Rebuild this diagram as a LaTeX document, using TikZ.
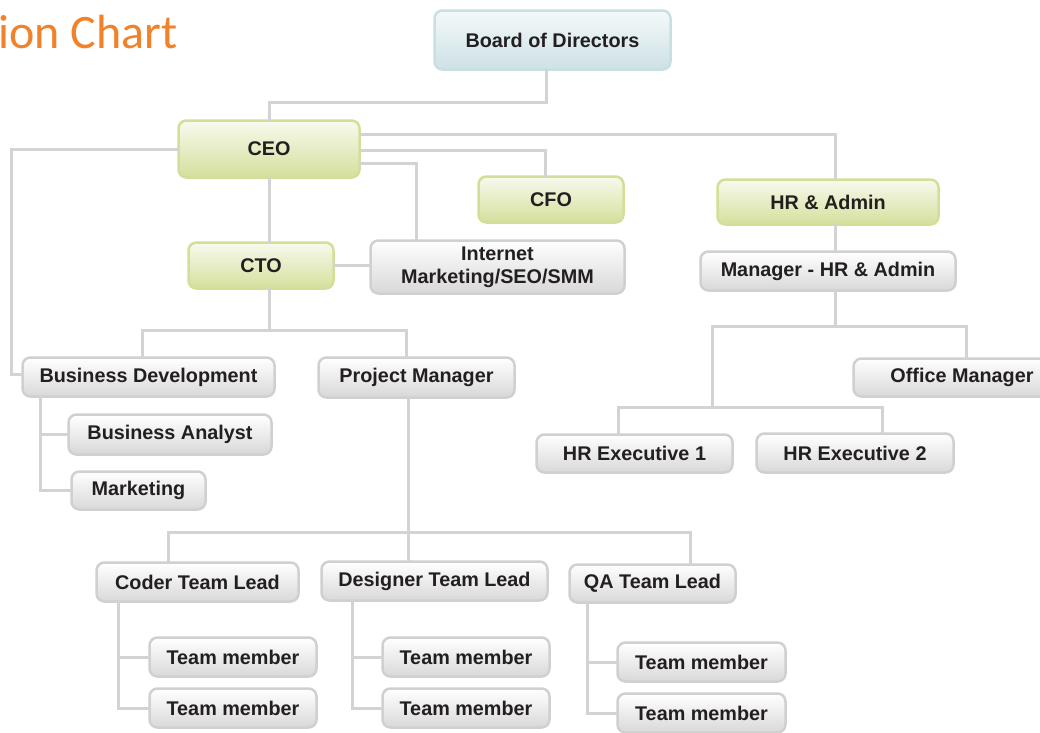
\documentclass[tikz,border=0pt]{standalone}
\usepackage{fontspec}
\setmainfont{Liberation Sans}
\newfontfamily\titlefont{Carlito}
\definecolor{conncol}{HTML}{D3D3D3}
\definecolor{txtcol}{HTML}{231F20}
\definecolor{grayedge}{HTML}{D0D0D0}
\definecolor{graybot}{HTML}{D8D8D8}
\definecolor{greenedge}{HTML}{D3DF98}
\definecolor{greentop}{HTML}{F8FAEE}
\definecolor{greenbot}{HTML}{D5DF9C}
\definecolor{blueedge}{HTML}{C8DFE3}
\definecolor{bluetop}{HTML}{F4F9FA}
\definecolor{bluebot}{HTML}{CDE1E5}
\definecolor{titlecol}{HTML}{F2822A}
\tikzset{
  box/.style={rounded corners=8pt, line width=2.5pt, inner sep=0pt, align=center,
    text=txtcol, font=\bfseries\fontsize{19.8}{23}\selectfont},
  graybox/.style={box, draw=grayedge, top color=white, bottom color=graybot},
  greenbox/.style={box, draw=greenedge, top color=greentop, bottom color=greenbot},
  bluebox/.style={box, draw=blueedge, top color=bluetop, bottom color=bluebot},
  conn/.style={draw=conncol, line width=3pt},
  sz/.style n args={2}{minimum width=#1pt, minimum height=#2pt},
}
\begin{document}
\begin{tikzpicture}[x=1pt,y=-1pt]
\useasboundingbox (0,0) rectangle (1040,732);
\fill[white] (0,0) rectangle (1040,732);

\node[anchor=base west, inner sep=0pt, text=titlecol, font=\titlefont\fontsize{48}{50}\selectfont] (title) at (-2,48) {ion Chart};

\node[bluebox, sz={236}{59}] (board) at (552.5,40) {Board of Directors};
\node[greenbox, sz={181}{57}] (ceo) at (269,149) {CEO};
\node[greenbox, sz={145}{46}] (cfo) at (551,199.5) {CFO};
\node[greenbox, sz={221}{45}] (hr) at (828,202) {HR \& Admin};
\node[greenbox, sz={145}{46}] (cto) at (261,265.5) {CTO};
\node[graybox, sz={254}{53}] (inet) at (497.5,267) {Internet\\Marketing/SEO/SMM};
\node[graybox, sz={255}{39}] (mgr) at (828,271) {Manager - HR \& Admin};
\node[graybox, sz={252}{39}] (bd) at (148.5,377) {Business Development};
\node[graybox, sz={196}{40}] (pm) at (416.5,377.5) {Project Manager};
\node[graybox, sz={217}{38}] (om) at (962,377.5) {Office Manager};
\node[graybox, sz={203}{40}] (ba) at (170,434.5) {Business Analyst};
\node[graybox, sz={134}{38}] (mkt) at (138.5,490.5) {Marketing};
\node[graybox, sz={196}{38}] (hre1) at (634.5,453.5) {HR Executive 1};
\node[graybox, sz={197}{39}] (hre2) at (855,453) {HR Executive 2};
\node[graybox, sz={202}{39}] (ctl) at (197.5,582) {Coder Team Lead};
\node[graybox, sz={226}{39}] (dtl) at (434.5,581) {Designer Team Lead};
\node[graybox, sz={166}{38}] (qtl) at (652.5,583.5) {QA Team Lead};
\node[graybox, sz={167}{39}] (tmc1) at (233,657) {Team member};
\node[graybox, sz={167}{39}] (tmc2) at (233,708) {Team member};
\node[graybox, sz={167}{39}] (tmd1) at (466,657) {Team member};
\node[graybox, sz={167}{39}] (tmd2) at (466,708) {Team member};
\node[graybox, sz={168}{39}] (tmq1) at (701.5,662) {Team member};
\node[graybox, sz={168}{39}] (tmq2) at (701.5,713) {Team member};

% Board -> CEO
\draw[conn] ([xshift=-6.5pt,yshift=1.5pt]board.south) -- ++(0,33.5) -| ([yshift=-1.5pt]ceo.north);
% CEO -> HR, CFO, Internet
\draw[conn] ([yshift=15pt,xshift=-1.5pt]ceo.east) -| ([xshift=7pt,yshift=-1.5pt]hr.north);
\draw[conn] ([yshift=-1pt,xshift=-1.5pt]ceo.east) -| ([xshift=-6pt,yshift=-1.5pt]cfo.north);
\draw[conn] ([yshift=-14pt,xshift=-1.5pt]ceo.east) -| ([xshift=-81.5pt,yshift=-1.5pt]inet.north);
% CEO -> Business Development
\draw[conn] ([xshift=1.5pt]ceo.west) -- ++(-167.5,0) |- ([yshift=3pt,xshift=1.5pt]bd.west);
% CEO -> CTO
\draw[conn] ([yshift=1.5pt]ceo.south) -- ([yshift=-1.5pt]ceo.south |- cto.north);
% CTO -> Internet
\draw[conn] ([xshift=-1.5pt]cto.east) -- ([xshift=1.5pt]cto.east -| inet.west);
% CTO -> BD, PM
\draw[conn] ([yshift=1.5pt]ceo.south |- cto.south) -- ++(0,42.5) coordinate (j1);
\draw[conn] (j1) -| ([xshift=-6.5pt,yshift=-1.5pt]bd.north);
\draw[conn] (j1) -| ([xshift=-10.5pt,yshift=-1.5pt]pm.north);
% BD -> BA, Marketing
\draw[conn] ([xshift=-108.5pt,yshift=1.5pt]bd.south) |- ([xshift=1.5pt]ba.west);
\draw[conn] ([xshift=-108.5pt,yshift=1.5pt]bd.south) |- ([xshift=1.5pt]mkt.west);
% PM -> team leads
\draw[conn] ([xshift=-8.5pt,yshift=1.5pt]pm.south) -- ++(0,135.5) coordinate (j2);
\draw[conn] (j2) -| ([xshift=-29.5pt,yshift=-1.5pt]ctl.north);
\draw[conn] (j2) -- ([yshift=-1.5pt]j2 |- dtl.north);
\draw[conn] (j2) -| ([xshift=37.5pt,yshift=-1.5pt]qtl.north);
% Team leads -> members
\draw[conn] ([xshift=-79.5pt,yshift=1.5pt]ctl.south) |- ([xshift=1.5pt]tmc1.west);
\draw[conn] ([xshift=-79.5pt,yshift=1.5pt]ctl.south) |- ([xshift=1.5pt]tmc2.west);
\draw[conn] ([xshift=-82.5pt,yshift=1.5pt]dtl.south) |- ([xshift=1.5pt]tmd1.west);
\draw[conn] ([xshift=-82.5pt,yshift=1.5pt]dtl.south) |- ([xshift=1.5pt]tmd2.west);
\draw[conn] ([xshift=-65.5pt,yshift=1.5pt]qtl.south) |- ([xshift=1.5pt]tmq1.west);
\draw[conn] ([xshift=-65.5pt,yshift=1.5pt]qtl.south) |- ([xshift=1.5pt]tmq2.west);
% HR -> Manager
\draw[conn] ([xshift=7pt,yshift=1.5pt]hr.south) -- ([xshift=7pt,yshift=-1.5pt]hr.south |- mgr.north);
% Manager -> OM, HR execs
\draw[conn] ([xshift=7pt,yshift=1.5pt]mgr.south) -- ++(0,36.5) coordinate (j3);
\draw[conn] (j3) -| ([xshift=4.5pt,yshift=-1.5pt]om.north);
\draw[conn] (j3) -- ++(-123,0) -- ++(0,81) coordinate (j4);
\draw[conn] (j4) -| ([xshift=-16.5pt,yshift=-1.5pt]hre1.north);
\draw[conn] (j4) -| ([xshift=27pt,yshift=-1.5pt]hre2.north);
\end{tikzpicture}
\end{document}
